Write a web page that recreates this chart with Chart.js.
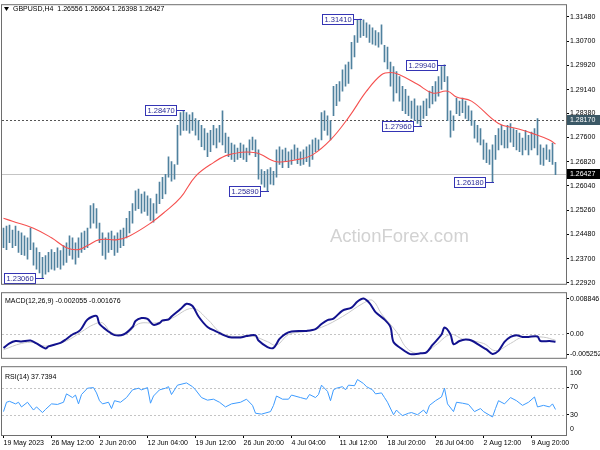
<!DOCTYPE html>
<html>
<head>
<meta charset="utf-8">
<script src="https://cdn.jsdelivr.net/npm/chart.js@4.4.1/dist/chart.umd.min.js"></script>
<style>
  body { margin: 0; background: #fff; }
  #wrap { position: relative; width: 600px; height: 450px; overflow: hidden; }
  canvas { position: absolute; left: 0; }
</style>
</head>
<body>
<div id="wrap">
  <canvas id="main" width="600" height="289" style="top:0"></canvas>
  <canvas id="macd" width="600" height="75" style="top:288px"></canvas>
  <canvas id="rsi" width="600" height="88" style="top:362px"></canvas>
</div>
<script>
// GBPUSD H4, each slot = two 4h bars
const title = 'GBPUSD,H4  1.26556 1.26604 1.26398 1.26427';
const watermark = 'ActionForex.com';
const slotCount = 188;

const highs = [
  1.2468,1.2475,1.2478,1.2462,1.2475,1.2459,1.2453,1.2443,1.2437,1.2468,
  1.2421,1.2405,1.2390,1.2374,1.2380,1.2390,1.2399,1.2390,1.2405,1.2396,
  1.2412,1.2421,1.2443,1.2437,1.2421,1.2437,1.2453,1.2459,1.2468,1.2541,
  1.2547,1.2531,1.2484,1.2453,1.2437,1.2453,1.2459,1.2443,1.2453,1.2462,
  1.2468,1.2500,1.2522,1.2547,1.2588,1.2594,1.2578,1.2585,1.2572,1.2563,
  1.2547,1.2578,1.2616,1.2632,1.2641,1.2698,1.2682,1.2673,1.2799,1.2840,
  1.2847,1.2840,1.2833,1.2840,1.2821,1.2814,1.2799,1.2789,1.2774,1.2783,
  1.2799,1.2789,1.2799,1.2846,1.2774,1.2761,1.2742,1.2736,1.2726,1.2742,
  1.2736,1.2726,1.2752,1.2761,1.2752,1.2720,1.2657,1.2651,1.2657,1.2663,
  1.2651,1.2720,1.2730,1.2720,1.2726,1.2714,1.2720,1.2736,1.2726,1.2714,
  1.2720,1.2730,1.2736,1.2752,1.2758,1.2752,1.2840,1.2846,1.2830,1.2814,
  1.2925,1.2931,1.2940,1.2978,1.2994,1.3003,1.3066,1.3088,1.3139,1.3141,
  1.3139,1.3129,1.3123,1.3113,1.3104,1.3098,1.3123,1.3057,1.3051,1.3003,
  1.2988,1.2972,1.2956,1.2925,1.2915,1.2893,1.2877,1.2884,1.2862,1.2862,
  1.2877,1.2884,1.2909,1.2925,1.2940,1.2956,1.2988,1.2994,1.2956,1.2846,
  1.2830,1.2887,1.2877,1.2887,1.2877,1.2862,1.2846,1.2814,1.2799,1.2789,
  1.2752,1.2742,1.2720,1.2736,1.2767,1.2789,1.2799,1.2783,1.2799,1.2805,
  1.2789,1.2783,1.2774,1.2758,1.2783,1.2767,1.2777,1.2789,1.2821,1.2736,
  1.2726,1.2736,1.2720,1.2742,1.2680
];
const lows = [
  1.2405,1.2399,1.2421,1.2405,1.2412,1.2390,1.2383,1.2380,1.2368,1.2399,
  1.2349,1.2336,1.2324,1.2306,1.2320,1.2327,1.2336,1.2333,1.2342,1.2336,
  1.2349,1.2358,1.2380,1.2368,1.2352,1.2374,1.2390,1.2399,1.2405,1.2468,
  1.2484,1.2468,1.2421,1.2380,1.2368,1.2390,1.2399,1.2380,1.2390,1.2405,
  1.2412,1.2437,1.2453,1.2484,1.2525,1.2531,1.2516,1.2522,1.2509,1.2493,
  1.2487,1.2516,1.2547,1.2563,1.2578,1.2632,1.2619,1.2626,1.2673,1.2767,
  1.2783,1.2783,1.2774,1.2783,1.2767,1.2752,1.2730,1.2720,1.2698,1.2714,
  1.2736,1.2726,1.2745,1.2736,1.2711,1.2698,1.2689,1.2682,1.2689,1.2695,
  1.2689,1.2682,1.2704,1.2720,1.2698,1.2626,1.2610,1.2600,1.2589,1.2610,
  1.2607,1.2632,1.2673,1.2663,1.2682,1.2663,1.2673,1.2689,1.2676,1.2670,
  1.2673,1.2682,1.2667,1.2689,1.2714,1.2720,1.2752,1.2783,1.2767,1.2752,
  1.2830,1.2862,1.2877,1.2909,1.2925,1.2934,1.2981,1.3019,1.3066,1.3082,
  1.3088,1.3082,1.3066,1.3060,1.3057,1.3051,1.3060,1.3003,1.2981,1.2925,
  1.2877,1.2903,1.2877,1.2846,1.2837,1.2830,1.2821,1.2814,1.2805,1.2796,
  1.2821,1.2830,1.2855,1.2868,1.2877,1.2893,1.2915,1.2940,1.2814,1.2761,
  1.2783,1.2837,1.2830,1.2840,1.2821,1.2814,1.2799,1.2758,1.2745,1.2736,
  1.2689,1.2679,1.2673,1.2618,1.2689,1.2720,1.2736,1.2726,1.2726,1.2745,
  1.2730,1.2720,1.2714,1.2704,1.2720,1.2704,1.2720,1.2726,1.2704,1.2673,
  1.2670,1.2689,1.2682,1.2673,1.2640
];

// moving average, read at sample slots
const maIdx = [0,3,10,16,21,25,28,32,38,42,49,54,59,64,70,75,84,91,98,103,109,115,121,126,129,132,138,143,148,151,156,165,171,176,182,184];
const maVals = [1.2500,1.2490,1.2468,1.2437,1.2405,1.2399,1.2412,1.2431,1.2431,1.2443,1.2484,1.2522,1.2566,1.2635,1.2679,1.2704,1.2711,1.2682,1.2689,1.2704,1.2752,1.2824,1.2909,1.2962,1.2969,1.2962,1.2931,1.2903,1.2909,1.2890,1.2877,1.2805,1.2789,1.2774,1.2752,1.2739];

const markIdx = [13, 60, 88, 119, 139, 147, 163];
const markPrice = [1.2306, 1.2847, 1.2589, 1.3141, 1.2796, 1.2994, 1.2618];
const levelLine = 1.2817;
const lastPrice = 1.26427;

const priceTicks = [1.3148,1.3070,1.2992,1.2914,1.2838,1.2760,1.2682,1.2604,1.2526,1.2448,1.2370,1.2292];

const macdIdx = [0,2,4,6,9,11,14,15,19,21,23,25,26,28,31,32,35,37,40,43,44,46,48,50,52,53,55,56,59,61,63,65,68,71,75,79,81,84,85,88,90,92,94,96,99,101,104,106,108,110,113,116,118,120,122,124,127,129,130,133,135,136,139,141,143,146,147,149,150,152,154,156,159,161,163,165,167,169,171,173,175,178,179,182,184];
const macdVals = [-0.00363,-0.00249,-0.00188,-0.00197,-0.00175,-0.00249,-0.00379,-0.00324,-0.00234,-0.00136,-0.00023,0.00052,0.00129,0.00356,0.00447,0.00243,0.00052,-0.00039,-0.00023,0.00166,0.00318,0.00392,0.00370,0.00220,0.00265,0.00333,0.00356,0.00431,0.00619,0.00755,0.00696,0.00431,0.00166,0.00052,-0.00084,-0.00098,-0.00061,-0.00045,-0.00175,-0.00340,-0.00363,-0.00136,-0.00007,0.00052,0.00068,0.00068,0.00113,0.00243,0.00340,0.00379,0.00583,0.00658,0.00810,0.00885,0.00771,0.00544,0.00356,0.00166,-0.00211,-0.00401,-0.00499,-0.00525,-0.00499,-0.00476,-0.00288,-0.00023,0.00152,-0.00023,-0.00265,-0.00188,-0.00152,-0.00175,-0.00311,-0.00401,-0.00515,-0.00438,-0.00211,-0.00084,-0.00039,-0.00084,-0.00084,-0.00075,-0.00188,-0.00188,-0.002055];
const sigIdx = [0,6,10,14,21,26,30,33,36,41,45,51,56,63,68,72,76,83,88,91,95,100,106,113,120,123,126,131,135,140,144,149,153,160,164,169,173,180,184];
const sigVals = [-0.00408,-0.00249,-0.00227,-0.00318,-0.00181,0.00045,0.00227,0.00272,0.00023,0.0,0.00249,0.00272,0.00386,0.00635,0.00363,0.00045,-0.00068,-0.00068,-0.00204,-0.00295,-0.00023,0.00045,0.00159,0.00431,0.00771,0.00839,0.00499,0.00045,-0.00408,-0.00499,-0.00295,-0.00023,-0.00136,-0.00249,-0.00431,-0.00249,-0.00091,-0.00091,-0.001676];
const macdTicks = [0.008846, 0, -0.005252];

const rsiIdx = [0,1,2,4,5,6,8,10,11,13,14,16,18,20,21,23,24,25,26,28,30,31,32,33,35,36,37,39,41,43,45,46,48,49,50,52,54,55,56,58,61,63,64,66,68,70,72,74,76,79,81,83,84,86,89,90,91,93,95,96,99,101,102,104,105,106,108,109,110,111,113,114,115,117,118,120,121,123,124,126,127,128,130,131,132,133,135,136,138,140,141,142,144,146,147,148,150,151,153,155,157,159,160,163,164,165,167,169,171,173,175,177,178,180,182,183,184];
const rsiVals = [34.5,48.3,49.7,45.9,48.3,41.4,48.3,36.8,41.4,33.1,37.7,45.9,45.1,48.3,60.7,55.2,58.9,45.9,59.7,69.0,69.9,62.1,50.6,45.9,48.3,39.0,50.6,48.3,55.2,66.6,69.0,66.6,69.9,46.9,57.5,66.6,69.0,71.3,59.7,73.5,76.8,71.3,66.6,55.2,51.4,52.8,48.3,41.4,45.9,48.3,52.8,43.7,32.1,30.8,34.5,43.7,57.5,52.8,52.8,58.9,55.2,52.8,59.7,55.2,59.7,73.5,64.4,50.6,66.6,69.0,71.3,66.6,73.5,72.7,81.8,75.9,71.3,66.6,60.7,62.1,55.2,48.3,29.9,36.8,32.1,28.6,32.1,33.1,29.9,36.8,31.3,43.7,50.6,56.1,69.0,45.9,34.5,48.3,46.9,45.1,34.5,39.0,34.5,26.6,39.0,50.6,45.9,55.2,50.6,43.7,48.3,56.1,41.4,43.7,41.4,45.9,37.7];
const rsiLevels = [70, 30];

const tickIdx = [0,16,32,48,64,80,96,112,128,144,160,176];
const tickLabels = ['19 May 2023','26 May 12:00','2 Jun 20:00','12 Jun 04:00','19 Jun 12:00','26 Jun 20:00','4 Jul 04:00','11 Jul 12:00','18 Jul 20:00','26 Jul 04:00','2 Aug 12:00','9 Aug 20:00'];

const fontFam = "'Liberation Sans', Arial, sans-serif";
Chart.defaults.font.family = fontFam;
Chart.defaults.font.size = 7;
Chart.defaults.color = '#000';
Chart.defaults.animation = false;

const pts = (idx, vals) => idx.map((x, i) => ({ x: x, y: vals[i] }));

function xScale(show) {
  const s = {
    type: 'linear', min: -0.5, max: slotCount - 0.5, display: show, offset: false,
    afterBuildTicks: sc => { sc.ticks = tickIdx.map(v => ({ value: v })); },
    ticks: { callback: (v, i) => tickLabels[i], align: 'start', autoSkip: false, maxRotation: 0, padding: 1 },
    grid: { drawOnChartArea: false, tickLength: 3, color: '#000', offset: false },
    border: { display: false }
  };
  if (show) s.afterFit = sc => { sc.height = 14; };
  return s;
}
function yScale(min, max, ticks, fmt) {
  return {
    position: 'right', min: min, max: max,
    afterBuildTicks: s => { s.ticks = ticks.map(v => ({ value: v })); },
    afterFit: s => { s.width = 34; },
    ticks: { callback: fmt, padding: 1, autoSkip: false },
    grid: { drawOnChartArea: false, tickLength: 3, color: '#000' },
    border: { display: false }
  };
}

function hline(ctx, area, py, color, dash) {
  ctx.save();
  ctx.strokeStyle = color; ctx.lineWidth = 1; ctx.setLineDash(dash);
  ctx.beginPath();
  ctx.moveTo(area.left, Math.round(py) + 0.5);
  ctx.lineTo(area.right, Math.round(py) + 0.5);
  ctx.stroke();
  ctx.restore();
}

const frame = {
  id: 'frame',
  afterDraw(chart) {
    const a = chart.chartArea, c = chart.ctx;
    c.save();
    c.strokeStyle = '#6e6e6e'; c.lineWidth = 1;
    c.strokeRect(a.left - 0.5, a.top - 0.5, a.right - a.left + 1, a.bottom - a.top + 1);
    c.restore();
  }
};

function axisBox(ctx, a, py, text, bg) {
  ctx.fillStyle = bg;
  ctx.fillRect(a.right + 1, Math.round(py) - 5, 33, 10);
  ctx.fillStyle = '#fff';
  ctx.textBaseline = 'middle';
  ctx.fillText(text, a.right + 4, Math.round(py) + 0.5);
}

const mainDeco = {
  id: 'mainDeco',
  beforeDatasetsDraw(chart) {
    const { ctx, chartArea: a, scales: { y } } = chart;
    ctx.save();
    ctx.font = '18.5px ' + fontFam;
    ctx.fillStyle = '#d2d2d2';
    ctx.textBaseline = 'middle';
    ctx.fillText(watermark, 330, 237);
    ctx.restore();
    hline(ctx, a, y.getPixelForValue(lastPrice), '#c4c4c4', []);
    hline(ctx, a, y.getPixelForValue(levelLine), '#555', [2, 2]);
  },
  afterDatasetsDraw(chart) {
    const { ctx, scales: { x, y } } = chart;
    ctx.save();
    ctx.font = '7.5px ' + fontFam;
    ctx.textBaseline = 'middle';
    markIdx.forEach((idx, i) => {
      const bx = Math.round(x.getPixelForValue(idx));
      const by = Math.round(y.getPixelForValue(markPrice[i]));
      const txt = markPrice[i].toFixed(5);
      const w = Math.ceil(ctx.measureText(txt).width) + 4;
      const right = bx - 7;
      ctx.strokeStyle = '#3434b4';
      ctx.lineWidth = 1;
      ctx.beginPath();
      ctx.moveTo(right, by + 0.5);
      ctx.lineTo(bx + 1, by + 0.5);
      ctx.stroke();
      ctx.fillStyle = '#fff';
      ctx.fillRect(right - w, by - 5, w, 10);
      ctx.strokeRect(right - w + 0.5, by - 4.5, w - 1, 10);
      ctx.fillStyle = '#2a2a96';
      ctx.fillText(txt, right - w + 2.5, by + 0.5);
    });
    ctx.restore();
  },
  afterDraw(chart) {
    const { ctx, chartArea: a, scales: { y } } = chart;
    ctx.save();
    ctx.font = '7px ' + fontFam;
    axisBox(ctx, a, y.getPixelForValue(levelLine), levelLine.toFixed(5), '#3b5866');
    axisBox(ctx, a, y.getPixelForValue(lastPrice), lastPrice.toFixed(5), '#000');
    // title with the small drop triangle
    ctx.fillStyle = '#000';
    ctx.beginPath();
    ctx.moveTo(4, 7); ctx.lineTo(9, 7); ctx.lineTo(6.5, 11); ctx.closePath();
    ctx.fill();
    ctx.textBaseline = 'middle';
    ctx.fillText(title, 13, 9);
    ctx.restore();
  }
};

new Chart(document.getElementById('main'), {
  type: 'bar',
  data: {
    datasets: [
      {
        type: 'line', label: 'MA', data: pts(maIdx, maVals), order: 0,
        borderColor: '#f5504f', borderWidth: 1.1, pointRadius: 0, tension: 0.4
      },
      {
        label: 'GBPUSD', order: 1,
        data: highs.map((h, i) => ({ x: i, y: [lows[i], h] })),
        backgroundColor: '#4f819e', barThickness: 1, grouped: false
      }
    ]
  },
  options: {
    responsive: false,
    layout: { padding: { left: 2, top: 2, bottom: 2, right: 0 } },
    plugins: { legend: { display: false }, tooltip: { enabled: false } },
    scales: {
      x: xScale(false),
      y: yScale(1.22889, 1.31858, priceTicks, v => v.toFixed(5))
    }
  },
  plugins: [mainDeco, frame]
});

const macdDeco = {
  id: 'macdDeco',
  beforeDatasetsDraw(chart) {
    const { ctx, chartArea: a, scales: { y } } = chart;
    hline(ctx, a, y.getPixelForValue(0), '#c4c4c4', [2, 2]);
  },
  afterDraw(chart) {
    const { ctx, chartArea: a } = chart;
    ctx.save();
    ctx.textBaseline = 'middle';
    ctx.fillStyle = '#000';
    ctx.fillText('MACD(12,26,9) ' + macdVals[macdVals.length - 1].toFixed(6) + ' ' + sigVals[sigVals.length - 1].toFixed(6), a.left + 3, a.top + 8);
    ctx.restore();
  }
};

new Chart(document.getElementById('macd'), {
  type: 'line',
  data: {
    datasets: [
      { label: 'MACD', data: pts(macdIdx, macdVals), borderColor: '#12128e', borderWidth: 2, pointRadius: 0, tension: 0.3 },
      { label: 'Signal', data: pts(sigIdx, sigVals), borderColor: '#c9c9c9', borderWidth: 1, pointRadius: 0, tension: 0.4 }
    ]
  },
  options: {
    responsive: false,
    layout: { padding: { left: 2, top: 1, bottom: 2, right: 0 } },
    plugins: { legend: { display: false }, tooltip: { enabled: false } },
    scales: {
      x: xScale(false),
      y: yScale(-0.00612, 0.01021, macdTicks, v => v === 0 ? '0.00' : v.toFixed(6))
    }
  },
  plugins: [macdDeco, frame]
});

const rsiDeco = {
  id: 'rsiDeco',
  beforeDatasetsDraw(chart) {
    const { ctx, chartArea: a, scales: { y } } = chart;
    rsiLevels.forEach(l => hline(ctx, a, y.getPixelForValue(l), '#c4c4c4', [2, 2]));
  },
  afterDraw(chart) {
    const { ctx, chartArea: a } = chart;
    ctx.save();
    ctx.textBaseline = 'middle';
    ctx.fillStyle = '#000';
    ctx.fillText('RSI(14) ' + '37.7394', a.left + 3, a.top + 10);
    ctx.fillText('100', a.right + 4, a.top + 6);
    ctx.fillText('0', a.right + 4, a.bottom - 6);
    ctx.restore();
  }
};

new Chart(document.getElementById('rsi'), {
  type: 'line',
  data: {
    datasets: [
      { label: 'RSI', data: pts(rsiIdx, rsiVals), borderColor: '#3d9bff', borderWidth: 1, pointRadius: 0, tension: 0 }
    ]
  },
  options: {
    responsive: false,
    layout: { padding: { left: 2, top: 1, bottom: 1, right: 0 } },
    plugins: { legend: { display: false }, tooltip: { enabled: false } },
    scales: {
      x: xScale(true),
      y: yScale(0, 100, rsiLevels, v => String(v))
    }
  },
  plugins: [rsiDeco, frame]
});
</script>
</body>
</html>
